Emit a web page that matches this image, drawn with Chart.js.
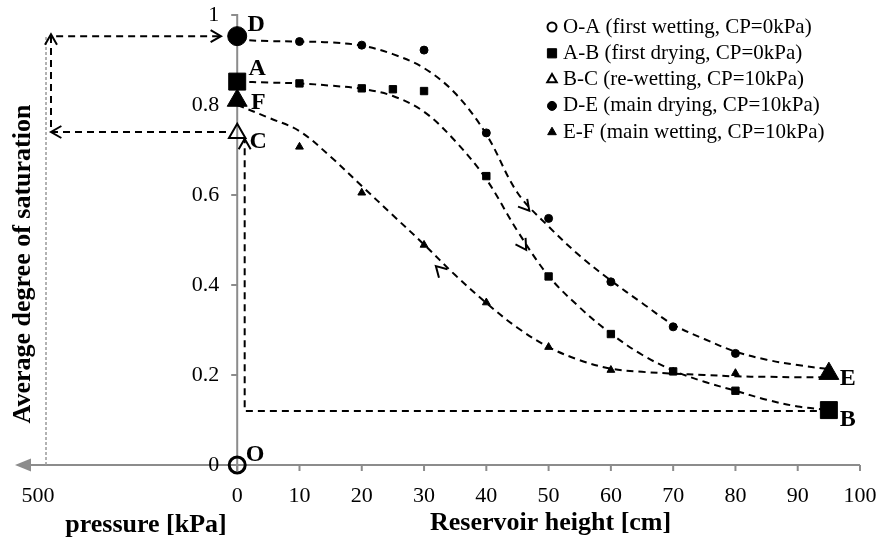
<!DOCTYPE html>
<html>
<head>
<meta charset="utf-8">
<script src="https://cdn.jsdelivr.net/npm/chart.js@4/dist/chart.umd.min.js"></script>
<style>
  body { margin: 0; background: #fff; }
  #wrap { width: 882px; height: 548px; }
</style>
</head>
<body>
<div id="wrap"><canvas id="chart" width="882" height="548"></canvas></div>
<script>
// measured points (x = reservoir height [cm], y = average degree of saturation)
const oaX = [0]
const oaY = [0]
const abX = [0, 10, 20, 25, 30, 40, 50, 60, 70, 80, 95]
const abY = [0.852, 0.848, 0.837, 0.835, 0.831, 0.642, 0.419, 0.291, 0.208, 0.165, 0.122]
const bcX = [0]
const bcY = [0.737]
const deX = [0, 10, 20, 30, 40, 50, 60, 70, 80]
const deY = [0.953, 0.941, 0.933, 0.922, 0.738, 0.548, 0.407, 0.307, 0.248]
const efX = [95, 80, 70, 60, 50, 40, 30, 20, 10, 0]
const efY = [0.203, 0.204, 0.207, 0.211, 0.262, 0.361, 0.489, 0.605, 0.707, 0.81]

// dashed trend curves
const fitX = [0, 5, 10, 15, 20, 25, 30, 35, 40, 45, 50, 55, 60, 65, 70, 75, 80, 85, 90, 95]
const deFit = [0.945, 0.942, 0.941, 0.939, 0.932, 0.913, 0.882, 0.826, 0.735, 0.605, 0.53, 0.465, 0.41, 0.36, 0.312, 0.28, 0.252, 0.234, 0.222, 0.213]
const abFit = [0.852, 0.85, 0.848, 0.843, 0.836, 0.82, 0.785, 0.72, 0.635, 0.52, 0.42, 0.35, 0.292, 0.245, 0.21, 0.185, 0.165, 0.145, 0.13, 0.122]
const efFit = [0.8, 0.772, 0.742, 0.685, 0.62, 0.555, 0.49, 0.422, 0.36, 0.305, 0.262, 0.233, 0.214, 0.207, 0.203, 0.2, 0.197, 0.196, 0.195, 0.195]

// path lines (B -> C, C -> 500 kPa -> D) and the 500 kPa guide
const bcPathX = [95, 1.2, 1.2]
const bcPathY = [0.12, 0.12, 0.725]
const cdPathX = [-1.8, -29.9, -29.9, -2.6]
const cdPathY = [0.74, 0.74, 0.953, 0.953]
const guideX = [-30.7, -30.7]
const guideY = [0, 0.953]

// direction arrows on the paths
const arrowX = [46.9, 46.4, 31.9, -29.9, -29.9, -2.6, 1.2]
const arrowY = [0.565, 0.478, 0.442, 0.74, 0.957, 0.953, 0.725]
const arrowDeg = [50, 57, -135, 180, -90, 0, -90]

// point letters
const letters = ["O", "A", "B", "C", "D", "E", "F"]
const letterX = [0, 0, 95, 0, 0, 95, 0]
const letterY = [0, 0.852, 0.122, 0.737, 0.953, 0.203, 0.81]

// ticks
const xTicks = [0, 10, 20, 30, 40, 50, 60, 70, 80, 90, 100]
const yTicks = [0, 0.2, 0.4, 0.6, 0.8, 1]
const pressureTick = -32
const pressureLabel = "500"

const serif = '"Liberation Serif", "Times New Roman", serif'
const axisGray = "#8c8c8c"

const pts = (xs, ys) => xs.map((v, i) => ({ x: v, y: ys[i] }))

const markers = [
  { label: "O-A (first wetting, CP=0kPa)", data: pts(oaX, oaY), pointStyle: "circle",
    pointRadius: 8, pointBorderWidth: 3, pointBackgroundColor: "rgba(0,0,0,0)", legendR: 4.5, open: true },
  { label: "A-B (first drying, CP=0kPa)", data: pts(abX, abY), pointStyle: "rect",
    pointRadius: abX.map((v, i) => (i === 0 || i === abX.length - 1 ? 12 : 5.2)), pointBorderWidth: 1,
    pointBackgroundColor: "#000", legendR: 6.5 },
  { label: "B-C (re-wetting, CP=10kPa)", data: pts(bcX, bcY), pointStyle: "triangle",
    pointRadius: 9.5, pointBorderWidth: 2, pointBackgroundColor: "rgba(0,0,0,0)", legendR: 5.5, open: true },
  { label: "D-E (main drying, CP=10kPa)", data: pts(deX, deY), pointStyle: "circle",
    pointRadius: deX.map((v, i) => (i === 0 ? 9.5 : 4)), pointBorderWidth: 1,
    pointBackgroundColor: "#000", legendR: 4.5 },
  { label: "E-F (main wetting, CP=10kPa)", data: pts(efX, efY), pointStyle: "triangle",
    pointRadius: efX.map((v, i) => (i === 0 || i === efX.length - 1 ? 11.5 : 4.5)), pointBorderWidth: 1,
    pointBackgroundColor: "#000", legendR: 5 },
]

const dashed = (data, extra) => Object.assign({
  data, showLine: true, pointRadius: 0, borderColor: "#000", borderWidth: 2,
  borderDash: [7, 5], fill: false, clip: false,
}, extra)

const datasets = markers.map((m) => Object.assign({
  showLine: false, borderColor: "#000", pointBorderColor: "#000", clip: false,
}, m)).concat([
  dashed(pts(fitX, deFit), { tension: 0.35 }),
  dashed(pts(fitX, abFit), { tension: 0.35 }),
  dashed(pts(fitX, efFit), { tension: 0.35 }),
  dashed(pts(bcPathX, bcPathY), { tension: 0 }),
  dashed(pts(cdPathX, cdPathY), { tension: 0 }),
  dashed(pts(guideX, guideY), { tension: 0, borderColor: "#9a9a9a", borderWidth: 1.5, borderDash: [3, 2] }),
])

function chevron(ctx, px, py, deg) {
  const a = deg * Math.PI / 180, len = 12, spread = Math.PI / 6
  ctx.beginPath()
  ctx.moveTo(px - len * Math.cos(a - spread), py - len * Math.sin(a - spread))
  ctx.lineTo(px, py)
  ctx.lineTo(px - len * Math.cos(a + spread), py - len * Math.sin(a + spread))
  ctx.stroke()
}

const letterOffset = { O: [18, -10], A: [20, -13], B: [19, 10], C: [21, 8], D: [19, -11], E: [19, 5], F: [21, 2] }

const decor = {
  id: "decor",
  beforeDatasetsDraw(chart) {
    const { ctx, scales: { x, y } } = chart
    const x0 = x.getPixelForValue(0)
    const y0 = y.getPixelForValue(0)
    ctx.save()
    ctx.strokeStyle = axisGray
    ctx.fillStyle = axisGray
    ctx.lineWidth = 2
    // horizontal axis with arrow to the pressure side
    const tip = x.left + 2
    ctx.beginPath()
    ctx.moveTo(tip + 14, y0)
    ctx.lineTo(x.getPixelForValue(100), y0)
    ctx.stroke()
    ctx.beginPath()
    ctx.moveTo(tip, y0)
    ctx.lineTo(tip + 16, y0 - 6.5)
    ctx.lineTo(tip + 16, y0 + 6.5)
    ctx.closePath()
    ctx.fill()
    xTicks.forEach((t) => {
      const px = x.getPixelForValue(t)
      ctx.beginPath()
      ctx.moveTo(px, y0)
      ctx.lineTo(px, y0 + 6)
      ctx.stroke()
    })
    // vertical axis at x = 0
    ctx.beginPath()
    ctx.moveTo(x0, y0 + 6)
    ctx.lineTo(x0, y.getPixelForValue(1) - 1)
    ctx.stroke()
    yTicks.forEach((t) => {
      const py = y.getPixelForValue(t)
      ctx.beginPath()
      ctx.moveTo(x0 - 6, py)
      ctx.lineTo(x0, py)
      ctx.stroke()
    })
    // tick labels
    ctx.fillStyle = "#000"
    ctx.font = "22px " + serif
    ctx.textAlign = "right"
    ctx.textBaseline = "middle"
    yTicks.forEach((t) => ctx.fillText(String(t), x0 - 18, y.getPixelForValue(t)))
    ctx.textAlign = "center"
    ctx.textBaseline = "alphabetic"
    xTicks.forEach((t) => ctx.fillText(String(t), x.getPixelForValue(t), y0 + 37))
    ctx.fillText(pressureLabel, x.getPixelForValue(pressureTick), y0 + 37)
    // axis titles
    ctx.font = "bold 26px " + serif
    ctx.fillText("pressure [kPa]", 146, 532)
    ctx.fillText("Reservoir height [cm]", (x0 + x.getPixelForValue(100)) / 2 + 2, 530)
    ctx.save()
    ctx.translate(23, 264)
    ctx.rotate(-Math.PI / 2)
    ctx.textBaseline = "middle"
    ctx.fillText("Average degree of saturation", 0, 0)
    ctx.restore()
    ctx.restore()
  },
  afterDatasetsDraw(chart) {
    const { ctx, scales: { x, y } } = chart
    ctx.save()
    ctx.strokeStyle = "#000"
    ctx.lineWidth = 2
    arrowX.forEach((v, i) => chevron(ctx, x.getPixelForValue(v), y.getPixelForValue(arrowY[i]), arrowDeg[i]))
    // point letters
    ctx.fillStyle = "#000"
    ctx.font = "bold 24px " + serif
    ctx.textAlign = "center"
    ctx.textBaseline = "middle"
    letters.forEach((l, i) => {
      const off = letterOffset[l]
      ctx.fillText(l, x.getPixelForValue(letterX[i]) + off[0], y.getPixelForValue(letterY[i]) + off[1])
    })
    // legend
    ctx.font = "21px " + serif
    ctx.textAlign = "left"
    markers.forEach((m, i) => {
      const ly = 27 + i * 26.3
      ctx.fillStyle = m.open ? "rgba(0,0,0,0)" : "#000"
      ctx.strokeStyle = "#000"
      ctx.lineWidth = m.open ? 2 : 1
      Chart.helpers.drawPoint(ctx, { pointStyle: m.pointStyle, radius: m.legendR, borderWidth: ctx.lineWidth }, 552, ly)
      ctx.fillStyle = "#000"
      ctx.fillText(m.label, 563, ly)
    })
    ctx.restore()
  },
}

new Chart(document.getElementById("chart"), {
  type: "scatter",
  data: { datasets },
  options: {
    responsive: false,
    animation: false,
    layout: { padding: { left: 10, right: 22, top: 15, bottom: 83 } },
    scales: {
      x: { type: "linear", min: -36, max: 100, display: false },
      y: { min: 0, max: 1, display: false },
    },
    plugins: { legend: { display: false }, tooltip: { enabled: false } },
  },
  plugins: [decor],
})
</script>
</body>
</html>
